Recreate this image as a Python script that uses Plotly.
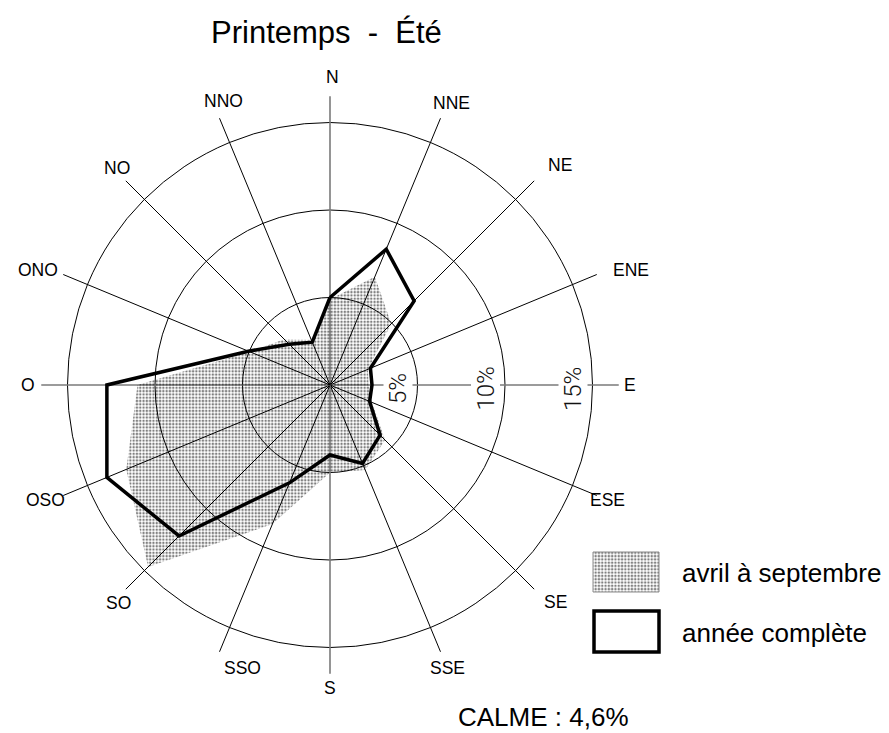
import math
import plotly.graph_objects as go

# Wind directions (clockwise from north) and frequencies in %
directions = ["N", "NNE", "NE", "ENE", "E", "ESE", "SE", "SSE",
              "S", "SSO", "SO", "OSO", "O", "ONO", "NO", "NNO"]
avril_septembre = [4.9, 6.7, 4.95, 2.35, 2.2, 2.6, 4.45, 5.25,
                   5.0, 8.6, 14.7, 12.6, 11.0, 4.95, 3.7, 2.8]
annee_complete = [5.0, 8.4, 6.8, 2.5, 2.4, 2.45, 4.05, 4.85,
                  4.0, 6.05, 12.2, 13.8, 12.75, 5.05, 3.3, 2.65]
ring_values = [5, 10, 15]
ring_labels = ["5%", "10%", "15%"]
calme_label = "CALME : 4,6%"
title_text = "Printemps  -  Été"
legend_labels = ["avril à septembre", "année complète"]

# Geometry of the page (pixels) and scale of the rose
W, H = 889, 733
CX, CY = 330, 385          # centre of the rose
PX = 17.5                  # pixels per percent
SPOKE_R = 16.5             # spoke length in percent
LABEL_R = 17.43            # direction label radius in percent
FONT = "Liberation Sans, Arial, sans-serif"
DOTS = dict(shape=".", fgcolor="black", bgcolor="rgba(0,0,0,0)",
            size=3.3, solidity=0.45)

# small per-label nudges (pixels) so labels sit beside the spoke ends
label_shift = {
    "N": (2, 3), "NNE": (5, 0), "NE": (14, 4), "ENE": (19, -2),
    "E": (-5, 0), "ESE": (-4, 2), "SE": (10, -1), "SSE": (1, -1),
    "S": (0, 2), "SSO": (29, -1), "SO": (4, -2), "OSO": (-3, 2),
    "O": (3, 0), "ONO": (-10, -2), "NO": (3, 1), "NNO": (10, 2),
}


def bearing(i):
    return math.radians(i * 360.0 / len(directions))


def polar_xy(values):
    xs = [v * math.sin(bearing(i)) for i, v in enumerate(values)]
    ys = [v * math.cos(bearing(i)) for i, v in enumerate(values)]
    return xs + xs[:1], ys + ys[:1]


def px_to_data(px, py):
    return (px - CX) / PX, (CY - py) / PX


fig = go.Figure()

# seasonal frequencies: dotted area
xs, ys = polar_xy(avril_septembre)
fig.add_trace(go.Scatter(
    x=xs, y=ys, mode="lines", fill="toself",
    fillcolor="rgba(0,0,0,0)", fillpattern=DOTS,
    line=dict(color="rgba(0,0,0,0)", width=0),
    hoverinfo="skip", showlegend=False))

# whole year: thick outline
xs, ys = polar_xy(annee_complete)
fig.add_trace(go.Scatter(
    x=xs, y=ys, mode="lines",
    line=dict(color="black", width=3.5),
    hoverinfo="skip", showlegend=False))

shapes = []
# rings
for v in ring_values:
    shapes.append(dict(type="circle", xref="x", yref="y",
                       x0=-v, x1=v, y0=-v, y1=v,
                       line=dict(color="black", width=1), layer="below"))
# spokes
for i, d in enumerate(directions):
    cardinal = d in ("N", "E", "S", "O")
    shapes.append(dict(type="line", xref="x", yref="y", x0=0, y0=0,
                       x1=SPOKE_R * math.sin(bearing(i)),
                       y1=SPOKE_R * math.cos(bearing(i)),
                       line=dict(color="#7a7a7a" if cardinal else "black",
                                 width=1.6 if cardinal else 1),
                       layer="below"))

annotations = []
for i, d in enumerate(directions):
    sx, sy = label_shift[d]
    annotations.append(dict(
        x=LABEL_R * math.sin(bearing(i)), y=LABEL_R * math.cos(bearing(i)),
        xref="x", yref="y", text=d, showarrow=False,
        xanchor="center", yanchor="middle", xshift=sx, yshift=sy,
        font=dict(family=FONT, size=17.5, color="black")))

# ring percentage labels, written along the east spoke
for v, lab in zip(ring_values, ring_labels):
    annotations.append(dict(
        x=v - 19.5 / PX, y=-4 / PX, xref="x", yref="y", text=lab,
        showarrow=False, textangle=-90, bgcolor="white", borderpad=0,
        xanchor="center", yanchor="middle",
        font=dict(family="Roboto, sans-serif", size=24, color="#111111",
                  weight=300)))

# title
annotations.append(dict(x=326 / W, y=1 - 33 / H, xref="paper", yref="paper",
                        text=title_text, showarrow=False,
                        xanchor="center", yanchor="middle",
                        font=dict(family=FONT, size=31, color="black")))

# legend: dotted swatch drawn as a filled trace, outline swatch as a shape
sx0, sy0 = px_to_data(593, 552)
sx1, sy1 = px_to_data(659, 592)
fig.add_trace(go.Scatter(
    x=[sx0, sx1, sx1, sx0, sx0], y=[sy0, sy0, sy1, sy1, sy0],
    mode="lines", fill="toself", fillcolor="rgba(0,0,0,0)",
    fillpattern=DOTS, line=dict(color="#8a8a8a", width=1),
    hoverinfo="skip", showlegend=False))
shapes.append(dict(type="rect", xref="paper", yref="paper",
                   x0=594 / W, x1=659 / W, y0=1 - 652 / H, y1=1 - 611 / H,
                   line=dict(color="black", width=3.5),
                   fillcolor="white", layer="above"))
for lab, ty in zip(legend_labels, [573, 633]):
    annotations.append(dict(x=680 / W, y=1 - ty / H, xref="paper",
                            yref="paper", text=lab, showarrow=False,
                            xanchor="left", yanchor="middle",
                            font=dict(family=FONT, size=26, color="black")))

annotations.append(dict(x=543 / W, y=1 - 717 / H, xref="paper", yref="paper",
                        text=calme_label, showarrow=False,
                        xanchor="center", yanchor="middle",
                        font=dict(family=FONT, size=26, color="black")))

x_range = [-CX / PX, (W - CX) / PX]
y_range = [-(H - CY) / PX, CY / PX]
fig.update_layout(
    width=W, height=H, margin=dict(l=0, r=0, t=0, b=0),
    paper_bgcolor="white", plot_bgcolor="white",
    xaxis=dict(range=x_range, visible=False, fixedrange=True),
    yaxis=dict(range=y_range, visible=False, fixedrange=True),
    shapes=shapes, annotations=annotations, showlegend=False)

fig.write_html("out.html", config={"displayModeBar": False})
